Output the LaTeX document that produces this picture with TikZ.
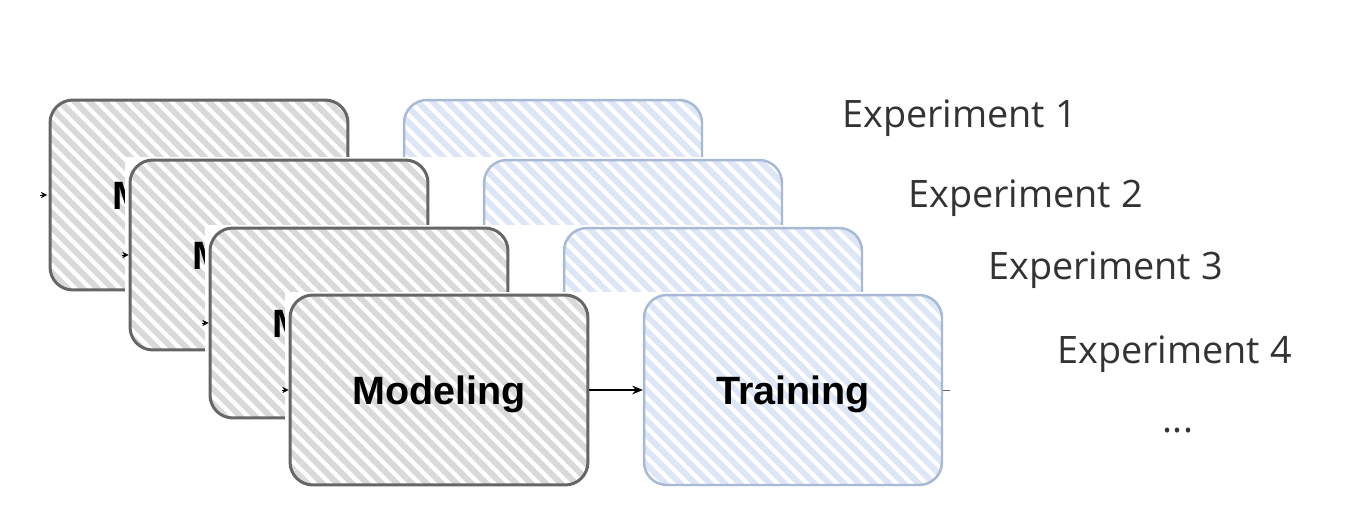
\documentclass[tikz,border=0pt]{standalone}
\usepackage{fontspec}
\setmainfont{Liberation Sans}
\newfontfamily\expfont{Open Sans}
\usetikzlibrary{arrows.meta,positioning,patterns.meta}
\definecolor{mborder}{HTML}{666666}
\definecolor{mstripe}{HTML}{D9D9D9}
\definecolor{tborder}{HTML}{A8B9D6}
\definecolor{tstripe}{HTML}{DCE6F6}
\definecolor{etext}{HTML}{333333}
\tikzset{
  modbox/.style={draw=mborder,line width=1.7pt,rounded corners=13pt,minimum width=5.96cm,minimum height=3.8cm,text depth=0pt,preaction={fill=white},pattern={Lines[angle=-45,distance=6pt,line width=3.4pt]},pattern color=mstripe,font=\bfseries\fontsize{22.5}{26}\selectfont},
  trainbox/.style={modbox,draw=tborder,line width=1.4pt,pattern color=tstripe},
  arr/.style={-{Stealth[length=6pt,width=5pt]},line width=0.6pt,draw=black},
  inarr/.style={-{Stealth[length=3.5pt,width=3.5pt]},line width=0.5pt,draw=black},
  stub/.style={line width=0.5pt,draw=mborder},
  explbl/.style={font=\expfont\fontsize{21.5}{24}\selectfont,text=etext,inner sep=0pt},
}

\begin{document}
\begin{tikzpicture}[x=0.02cm,y=-0.02cm]
  \useasboundingbox (0,0) rectangle (1362,504);
  % one layer per experiment, each hides the one behind it
  \foreach \i/\x/\y in {1/199/195,2/279/255,3/359/323,4/439/390}{
    \fill[white] (\x-154,\y-98) rectangle (960,\y+100);
    \node[modbox] (m\i) at (\x,\y) {Modeling};
    \node[trainbox] (t\i) at (\x+354,\y) {Training};
    \coordinate[left=4pt of m\i.west] (in\i);
    \coordinate[right=4pt of t\i.east] (out\i);
    \draw[inarr] (in\i) -- (m\i);
    \draw[arr] (m\i) -- (t\i);
    \draw[stub] (t\i) -- (out\i);
  }
  \node[explbl,anchor=base west] (e1) at (842,127) {Experiment 1};
  \node[explbl,anchor=base west] (e2) at (908,207) {Experiment 2};
  \node[explbl,anchor=base west] (e3) at (988,279) {Experiment 3};
  \node[explbl,anchor=base west] (e4) at (1057,363) {Experiment 4};
  \node[explbl,anchor=base] (more) at (1178,432) {...};
\end{tikzpicture}
\end{document}
